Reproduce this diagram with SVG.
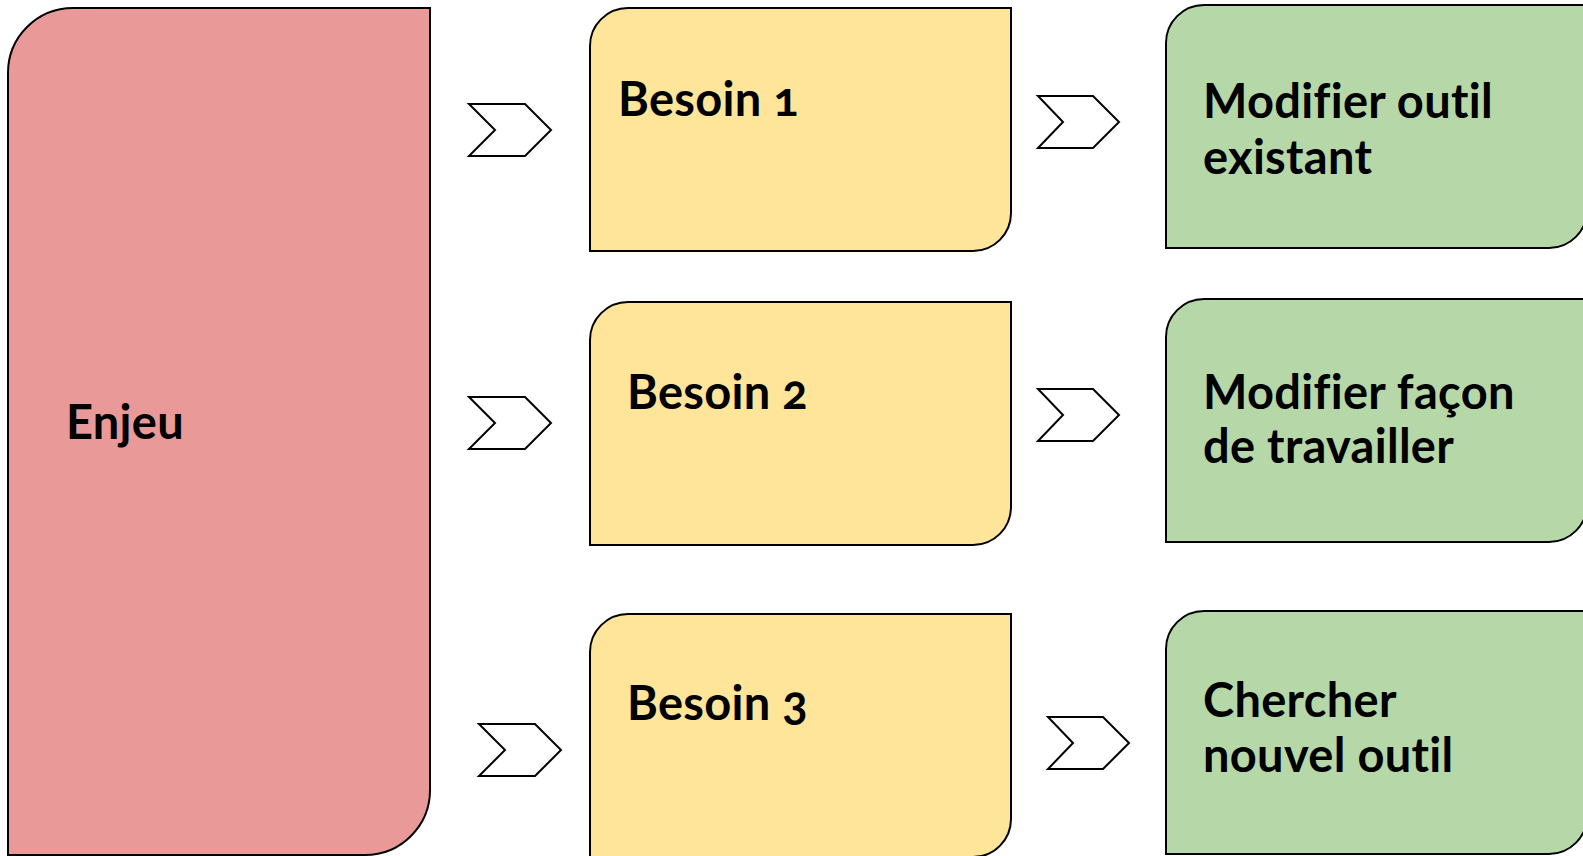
<svg xmlns="http://www.w3.org/2000/svg" width="1583" height="856" viewBox="0 0 1583 856">
  <style>
    .box { stroke: #000; stroke-width: 2; }
    .enjeu { fill: #ea9999; }
    .besoin { fill: #ffe599; }
    .action { fill: #b6d7a8; }
    .chev { fill: #fff; stroke: #000; stroke-width: 2; stroke-linejoin: miter; }
    .lbl { font-family: Lato, "Liberation Sans", sans-serif; font-weight: 700; font-size: 47px; letter-spacing: 0.3px; fill: #000; font-variant-numeric: oldstyle-nums; }
  </style>
  <rect width="1583" height="856" fill="#fff"/>
  <g id="enjeu">
    <path class="box enjeu" d="M73,8 H430 V790 A65,65 0 0 1 365,855 H8 V73 A65,65 0 0 1 73,8 Z"/>
    <text class="lbl" x="66" y="439">Enjeu</text>
  </g>
  <g id="besoin1">
    <path class="box besoin" d="M628,8 H1011 V213 A38,38 0 0 1 973,251 H590 V46 A38,38 0 0 1 628,8 Z"/>
    <text class="lbl" x="618" y="116">Besoin 1</text>
  </g>
  <g id="besoin2">
    <path class="box besoin" d="M628,302 H1011 V507 A38,38 0 0 1 973,545 H590 V340 A38,38 0 0 1 628,302 Z"/>
    <text class="lbl" x="627" y="409">Besoin 2</text>
  </g>
  <g id="besoin3">
    <path class="box besoin" d="M628,614 H1011 V819 A38,38 0 0 1 973,857 H590 V652 A38,38 0 0 1 628,614 Z"/>
    <text class="lbl" x="627" y="720">Besoin 3</text>
  </g>
  <g id="action1">
    <path class="box action" d="M1204,5 H1587 V210 A38,38 0 0 1 1549,248 H1166 V43 A38,38 0 0 1 1204,5 Z"/>
    <text class="lbl" x="1203" y="118">Modifier outil</text>
    <text class="lbl" x="1203" y="174">existant</text>
  </g>
  <g id="action2">
    <path class="box action" d="M1204,299 H1587 V504 A38,38 0 0 1 1549,542 H1166 V337 A38,38 0 0 1 1204,299 Z"/>
    <text class="lbl" x="1203" y="409">Modifier façon</text>
    <text class="lbl" x="1203" y="463">de travailler</text>
  </g>
  <g id="action3">
    <path class="box action" d="M1204,611 H1587 V816 A38,38 0 0 1 1549,854 H1166 V649 A38,38 0 0 1 1204,611 Z"/>
    <text class="lbl" x="1203" y="717">Chercher</text>
    <text class="lbl" x="1203" y="772">nouvel outil</text>
  </g>
  <g id="connectors">
    <polygon class="chev" points="469,104 525,104 551,130 525,156 469,156 495,130"/>
    <polygon class="chev" points="469,397 525,397 551,423 525,449 469,449 495,423"/>
    <polygon class="chev" points="479,724 535,724 561,750 535,776 479,776 505,750"/>
    <polygon class="chev" points="1038,96 1093,96 1119,122 1093,148 1038,148 1063,122"/>
    <polygon class="chev" points="1038,389 1093,389 1119,415 1093,441 1038,441 1063,415"/>
    <polygon class="chev" points="1048,717 1103,717 1129,743 1103,769 1048,769 1073,743"/>
  </g>
</svg>
